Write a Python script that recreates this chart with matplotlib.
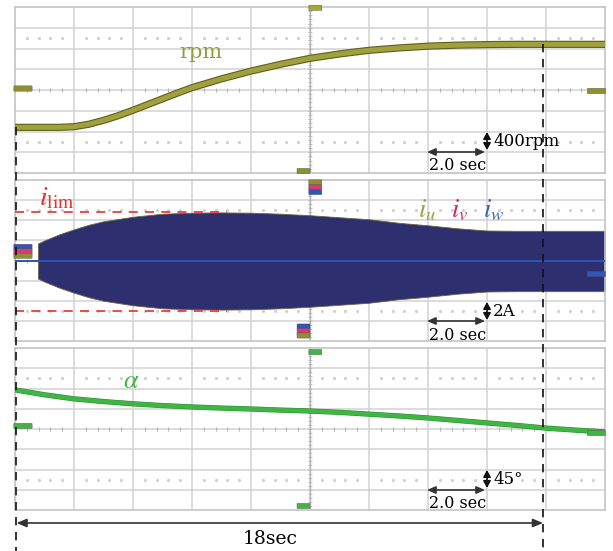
import numpy as np
import matplotlib
matplotlib.use("Agg")
import matplotlib.pyplot as plt
import matplotlib.patheffects as pe
from matplotlib.lines import Line2D
from matplotlib.patches import FancyArrowPatch, FancyBboxPatch

plt.rcParams["font.family"] = ["DejaVu Serif"]
plt.rcParams["mathtext.fontset"] = "stix"

# rpm trace (400 rpm/div, 2 s/div)
t_rpm = [0, 1, 1.5, 2, 2.5, 3, 3.5, 4, 4.5, 5, 5.5, 6, 7, 8, 9, 10, 11, 12, 13, 14, 15, 16, 17, 18, 19, 20]
rpm = [0, 0, 0, 12, 60, 135, 225, 330, 440, 550, 660, 765, 935, 1085, 1215, 1330, 1415, 1485, 1530, 1565, 1585, 1595, 1600, 1600, 1600, 1600]

# phase current envelope (2 A/div)
t_cur = [0.78, 1, 1.5, 2, 2.5, 3, 4, 5, 6, 7, 8, 9, 10, 11, 12, 13, 14, 15, 16, 17, 18, 19, 20]
i_amp = [1.7, 2.0, 2.6, 3.1, 3.55, 3.9, 4.35, 4.65, 4.75, 4.78, 4.75, 4.65, 4.5, 4.3, 4.1, 3.75, 3.5, 3.2, 2.98, 2.95, 2.95, 2.95, 2.95]
i_lim = 4.8
t_lim_end = 7.2

# alpha trace (45 deg/div)
t_alpha = [0, 1, 2, 3, 4, 5, 6, 7, 8, 9, 10, 11, 12, 13, 14, 15, 16, 17, 18, 19, 20]
alpha = [87, 76, 67, 61, 56, 52, 49, 46.5, 44.5, 42, 40, 37, 33, 29, 24.5, 19, 13.5, 8, 2, -2.5, -6.5]

t_start, t_end = 0.05, 17.9

W, H = 613, 551


def px(x, y):
    return x / W, 1 - y / H


def scope_grid(ax, ylo, yhi):
    ax.set_xlim(0, 20)
    ax.set_ylim(ylo, yhi)
    ax.set_xticks([])
    ax.set_yticks([])
    for s in ax.spines.values():
        s.set_color("#c4c4c4")
        s.set_linewidth(1.2)
    dy = (yhi - ylo) / 8
    for i in range(1, 10):
        ax.axvline(2 * i, color="#d2d2d2", lw=1.1, zorder=0)
    for j in range(1, 8):
        ax.axhline(ylo + j * dy, color="#d2d2d2", lw=1.1, zorder=0)
    ax.axvline(10, color="#b0b0b0", lw=0.9, zorder=0)
    mx = [x for x in np.arange(0.4, 20, 0.4) if abs(x / 2 - round(x / 2)) > 0.01]
    for r in (1.5, 6.5):
        ax.plot(mx, [ylo + r * dy] * len(mx), ls="none", marker="s", ms=1.1,
                color="#d0d0d0", zorder=0)
    ax.plot(mx, [ylo + 4 * dy] * len(mx), ls="none", marker="|", ms=2.5, mew=0.8,
            color="#b4b4b4", zorder=0)
    my = [ylo + k * dy / 5 for k in range(1, 40)]
    ax.plot([10] * len(my), my, ls="none", marker="_", ms=2.5, mew=0.6, color="#b4b4b4", zorder=0)


def tag(ax, x, y, color, w=0.027, h=0.028):
    ax.add_patch(FancyBboxPatch((x, y - h / 2), w, h, boxstyle="round,pad=0.002",
                                transform=ax.transAxes, fc=color, ec="#555555",
                                lw=0.3, clip_on=False, zorder=6))


OLIVE = "#8f8f30"
PINK = "#d23a78"
BLUE = "#2f56b8"
GREEN = "#3fb544"
NAVY = "#2d2f6e"

fig = plt.figure(figsize=(W / 100, H / 100), dpi=100)
ax1 = fig.add_axes([15 / W, 1 - 173 / H, 590 / W, 166 / H])
ax2 = fig.add_axes([15 / W, 1 - 341 / H, 590 / W, 161 / H])
ax3 = fig.add_axes([15 / W, 1 - 510 / H, 590 / W, 162 / H])

scope_grid(ax1, -880, 2320)
scope_grid(ax2, -8, 8)
scope_grid(ax3, -180, 180)

# rpm
ax1.plot(t_rpm, rpm, color="#a0a03e", lw=3.6, solid_capstyle="butt",
         path_effects=[pe.Stroke(linewidth=5.2, foreground="#5e5e1c"), pe.Normal()], zorder=3)

# currents
amp = np.array(i_amp)
ax2.fill_between(t_cur, -amp - 0.1, amp, color=NAVY, lw=0.6, edgecolor="#6a6440", zorder=2)
ax2.axhline(0, color=BLUE, lw=1.4, zorder=3)
ax2.plot([0, t_lim_end], [i_lim, i_lim], color="#e8403a", lw=1.3, ls=(0, (5, 4)), zorder=4)
ax2.plot([0, t_lim_end], [-i_lim - 0.2, -i_lim - 0.2], color="#e8403a", lw=1.3, ls=(0, (5, 4)), zorder=4)

# alpha
ax3.plot(t_alpha, alpha, color=GREEN, lw=3, zorder=3,
         path_effects=[pe.Stroke(linewidth=3.8, foreground="#2f8f34"), pe.Normal()])

# scope markers
tag(ax1, 0.0, 0.509, OLIVE)
tag(ax1, 0.5, 0.995, "#a8a830", w=0.018)
tag(ax1, 0.48, 0.012, OLIVE, w=0.018)
tag(ax1, 0.972, 0.494, OLIVE)
for k, c in enumerate([BLUE, PINK, OLIVE]):
    tag(ax2, 0.0, 0.585 - 0.028 * k, c)
for k, c in enumerate([OLIVE, PINK, BLUE]):
    tag(ax2, 0.5, 0.985 - 0.03 * k, c, w=0.018)
for k, c in enumerate([BLUE, PINK, OLIVE]):
    tag(ax2, 0.48, 0.09 - 0.028 * k, c, w=0.018)
tag(ax2, 0.972, 0.416, BLUE)
tag(ax3, 0.0, 0.519, GREEN)
tag(ax3, 0.5, 0.975, GREEN, w=0.018)
tag(ax3, 0.48, 0.025, GREEN, w=0.018)
tag(ax3, 0.972, 0.475, GREEN)

# dashed markers spanning the panels
inv = fig.transFigure.inverted()
for t0, r0 in ((t_start, rpm[0]), (t_end, rpm[-1])):
    xf, yf = inv.transform(ax1.transData.transform((t0, r0)))
    fig.add_artist(Line2D([xf, xf], [yf, 0], transform=fig.transFigure, color="#111111",
                          lw=1.2, ls=(0, (5, 4)), zorder=10))

xa = inv.transform(ax1.transData.transform((t_start, 0)))[0]
xb = inv.transform(ax1.transData.transform((t_end, 0)))[0]
ya = px(0, 523)[1]
fig.add_artist(FancyArrowPatch((xa, ya), (xb, ya), transform=fig.transFigure,
                               arrowstyle="<|-|>,head_length=0.6,head_width=0.25",
                               mutation_scale=10, shrinkA=0, shrinkB=0,
                               color="#333333", lw=1.2))
fig.text(*px(270, 539), "18sec", fontsize=13.5, ha="center", va="center")


# scale bars
def scale_bar(yh, yv0, yv1, label, ly):
    fig.add_artist(FancyArrowPatch(px(427, yh), px(485, yh), transform=fig.transFigure,
                                   arrowstyle="<|-|>,head_length=0.5,head_width=0.22",
                                   mutation_scale=10, shrinkA=0, shrinkB=0,
                                   color="#333333", lw=1.2))
    fig.add_artist(FancyArrowPatch(px(487, yv0), px(487, yv1), transform=fig.transFigure,
                                   arrowstyle="<|-|>,head_length=0.4,head_width=0.22",
                                   mutation_scale=10, shrinkA=0, shrinkB=0,
                                   color="#111111", lw=1.2))
    fig.text(*px(493, ly), label, fontsize=12, ha="left", va="center")


scale_bar(152, 132, 150, "400rpm", 142)
fig.text(*px(458, 166), "2.0 sec", fontsize=11.5, ha="center", va="center")
scale_bar(321, 302, 320, "2A", 311)
fig.text(*px(458, 335), "2.0 sec", fontsize=11.5, ha="center", va="center")
scale_bar(490, 470, 488, "45°", 479)
fig.text(*px(458, 503), "2.0 sec", fontsize=11.5, ha="center", va="center")

# trace labels
fig.text(*px(201, 53), "rpm", fontsize=15, color="#9a9a3c", ha="center", va="center")
fig.text(*px(57, 198), r"$i_{\mathrm{lim}}$", fontsize=20, color="#e8302a", ha="center", va="center")
fig.text(*px(427, 210), r"$i_u$", fontsize=19, color="#a0a040", ha="center", va="center")
fig.text(*px(460, 210), r"$i_v$", fontsize=19, color="#c8286e", ha="center", va="center")
fig.text(*px(494, 210), r"$i_w$", fontsize=19, color="#3a60c0", ha="center", va="center")
fig.text(*px(131, 381), r"$\alpha$", fontsize=19, color=GREEN, ha="center", va="center")

fig.savefig("out.png", dpi=100)
